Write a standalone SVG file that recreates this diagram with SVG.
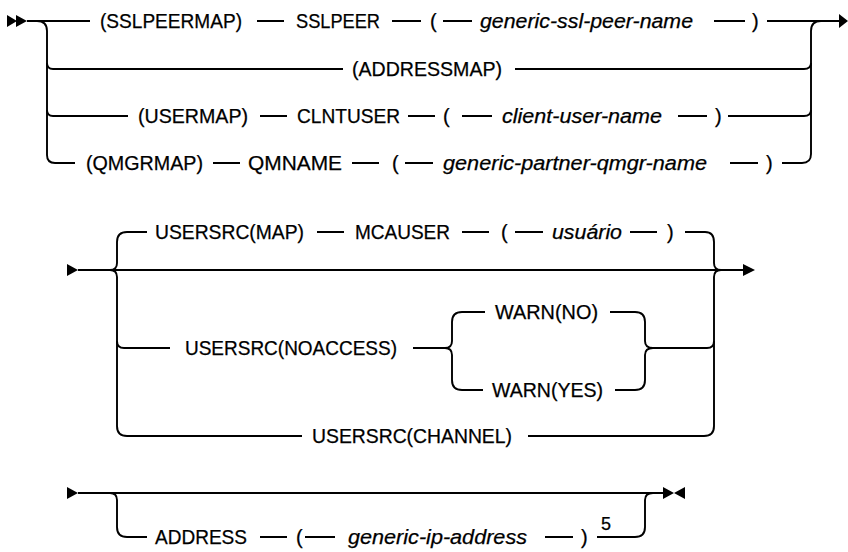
<svg xmlns="http://www.w3.org/2000/svg" width="848" height="552" viewBox="0 0 848 552">
<style>
.r{fill:none;stroke:#000;stroke-width:1.9;stroke-linejoin:round}
.h{fill:#000;stroke:none}
text{font-family:"Liberation Sans",Arial,sans-serif;font-size:20px;fill:#000;stroke:#000;stroke-width:0.25}
.i{font-style:italic}
.s{font-size:18px}
</style>
<rect width="848" height="552" fill="#fff"/>
<g id="connectors">
<!-- section 1 -->
<path class="h" d="M7,15 L17,21 L7,27 Z M16,15 L27,21 L16,27 Z"/>
<path class="r" d="M27,21 H90"/>
<path class="r" d="M37,21 Q47,21 47,31 V155 Q47,163 55,163 H75"/>
<path class="r" d="M47,63 Q47,69 53,69 H343 M515,69 H804 Q811,69 811,63"/>
<path class="r" d="M47,110 Q47,116 53,116 H128 M728,116 H804 Q811,116 811,110"/>
<path class="r" d="M782,163 H802 Q811,163 811,154 V31 Q811,21 821,21"/>
<path class="r" d="M767,21 H840"/>
<path class="h" d="M839,14 L848,21 L839,28 Z"/>
<path class="r" d="M257,21 H284 M392,21 H421 M443,21 H472 M714,21 H745"/>
<path class="r" d="M260,116 H287 M408,116 H435 M462,116 H492 M678,116 H707"/>
<path class="r" d="M213,163 H240 M352,163 H379 M405,163 H433 M730,163 H758"/>
<!-- section 2 -->
<path class="h" d="M67,264 L78,270 L67,276 Z"/>
<path class="r" d="M78,270 H744"/>
<path class="h" d="M743,264 L755,270 L743,276 Z"/>
<path class="r" d="M110,270 Q117,270 117,263 V242 Q117,232 127,232 H147"/>
<path class="r" d="M110,270 Q117,270 117,277 V426 Q117,436 127,436 H302"/>
<path class="r" d="M117,341 Q117,348 124,348 H170"/>
<path class="r" d="M317,232 H344 M462,232 H489 M515,232 H543 M630,232 H657"/>
<path class="r" d="M685,232 H705 Q714,232 714,242 V263 Q714,270 721,270"/>
<path class="r" d="M721,270 Q714,270 714,277 V426 Q714,436 704,436 H528"/>
<path class="r" d="M653,348 H707 Q714,348 714,341"/>
<path class="r" d="M413,348 H445 Q452,348 452,341 V322 Q452,312 462,312 H485"/>
<path class="r" d="M445,348 Q452,348 452,355 V380 Q452,390 462,390 H483"/>
<path class="r" d="M610,312 H635 Q645,312 645,322 V341 Q645,348 653,348"/>
<path class="r" d="M615,390 H635 Q645,390 645,380 V355 Q645,348 653,348"/>
<!-- section 3 -->
<path class="h" d="M67,487 L78,493 L67,499 Z"/>
<path class="r" d="M78,493 H664"/>
<path class="r" d="M110,493 Q117,493 117,500 V527 Q117,537 127,537 H147"/>
<path class="r" d="M260,537 H287 M305,537 H335 M545,537 H573"/>
<path class="r" d="M597,537 H635 Q645,537 645,527 V500 Q645,493 653,493"/>
<path class="h" d="M663,487 L674,493 L663,499 Z M685,487 L674,493 L685,499 Z"/>
</g>
<g id="sslpeermap"><text x="100" y="28" textLength="142" lengthAdjust="spacingAndGlyphs">(SSLPEERMAP)</text></g>
<g id="sslpeer"><text x="296" y="28" textLength="84" lengthAdjust="spacingAndGlyphs">SSLPEER</text></g>
<g id="sslpeer-open"><text x="430" y="28">(</text></g>
<g id="ssl-peer-name"><text class="i" x="480" y="28" textLength="213" lengthAdjust="spacingAndGlyphs">generic-ssl-peer-name</text></g>
<g id="sslpeer-close"><text x="752" y="28">)</text></g>
<g id="addressmap"><text x="352" y="76" textLength="150" lengthAdjust="spacingAndGlyphs">(ADDRESSMAP)</text></g>
<g id="usermap"><text x="138" y="123" textLength="110" lengthAdjust="spacingAndGlyphs">(USERMAP)</text></g>
<g id="clntuser"><text x="297" y="123" textLength="103" lengthAdjust="spacingAndGlyphs">CLNTUSER</text></g>
<g id="clntuser-open"><text x="443" y="123">(</text></g>
<g id="client-user-name"><text class="i" x="502" y="123" textLength="160" lengthAdjust="spacingAndGlyphs">client-user-name</text></g>
<g id="clntuser-close"><text x="715" y="123">)</text></g>
<g id="qmgrmap"><text x="86" y="170" textLength="117" lengthAdjust="spacingAndGlyphs">(QMGRMAP)</text></g>
<g id="qmname"><text x="248" y="170" textLength="94" lengthAdjust="spacingAndGlyphs">QMNAME</text></g>
<g id="qmname-open"><text x="392" y="170">(</text></g>
<g id="partner-qmgr-name"><text class="i" x="443" y="170" textLength="264" lengthAdjust="spacingAndGlyphs">generic-partner-qmgr-name</text></g>
<g id="qmname-close"><text x="766" y="170">)</text></g>
<g id="usersrc-map"><text x="155" y="239" textLength="149" lengthAdjust="spacingAndGlyphs">USERSRC(MAP)</text></g>
<g id="mcauser"><text x="355" y="239" textLength="95" lengthAdjust="spacingAndGlyphs">MCAUSER</text></g>
<g id="mcauser-open"><text x="501" y="239">(</text></g>
<g id="usuario"><text class="i" x="552" y="239" textLength="70" lengthAdjust="spacingAndGlyphs">usuário</text></g>
<g id="mcauser-close"><text x="667" y="239">)</text></g>
<g id="usersrc-noaccess"><text x="185" y="355" textLength="212" lengthAdjust="spacingAndGlyphs">USERSRC(NOACCESS)</text></g>
<g id="warn-no"><text x="495" y="319" textLength="103" lengthAdjust="spacingAndGlyphs">WARN(NO)</text></g>
<g id="warn-yes"><text x="492" y="397" textLength="111" lengthAdjust="spacingAndGlyphs">WARN(YES)</text></g>
<g id="usersrc-channel"><text x="312" y="443" textLength="200" lengthAdjust="spacingAndGlyphs">USERSRC(CHANNEL)</text></g>
<g id="address"><text x="155" y="544" textLength="92" lengthAdjust="spacingAndGlyphs">ADDRESS</text></g>
<g id="address-open"><text x="296" y="544">(</text></g>
<g id="ip-address"><text class="i" x="348" y="544" textLength="179" lengthAdjust="spacingAndGlyphs">generic-ip-address</text></g>
<g id="address-close"><text x="581" y="544">)</text></g>
<g id="note-5"><text class="s" x="601" y="530">5</text></g>
</svg>
